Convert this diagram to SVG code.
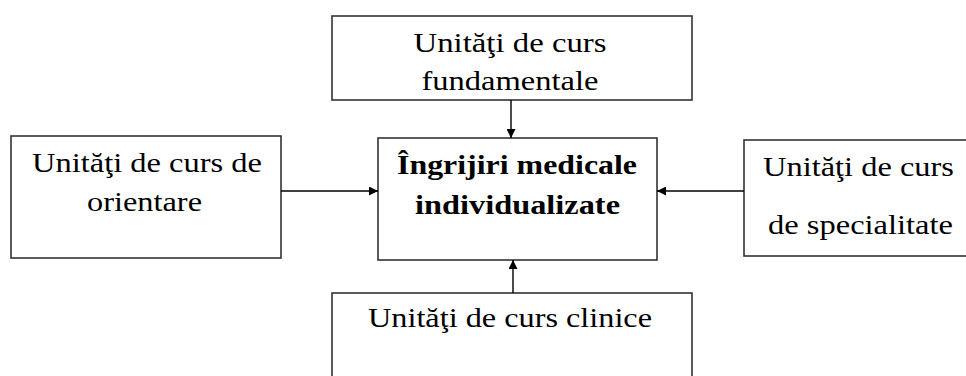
<svg xmlns="http://www.w3.org/2000/svg" width="966" height="376" viewBox="0 0 966 376">
<style>
.box{fill:#fff;stroke:#333;stroke-width:1.6}
.t{font-family:"Liberation Serif","Times New Roman",serif;font-size:28px;fill:#000;text-anchor:middle}
.b{font-weight:bold}
.c{stroke:#000;stroke-width:1.4;fill:none}
</style>
<defs>
<marker id="ah" viewBox="0 0 10 10" refX="10" refY="5" markerWidth="10" markerHeight="9" markerUnits="userSpaceOnUse" orient="auto">
<path d="M0,0 L10,5 L0,10 Z" fill="#000"/>
</marker>
</defs>
<rect width="966" height="376" fill="#fff"/>
<g id="fundamentale">
<rect class="box" x="332" y="16" width="360" height="84"/>
<text class="t" x="510" y="52" textLength="193" lengthAdjust="spacingAndGlyphs">Unităţi de curs</text>
<text class="t" x="510" y="90" textLength="177" lengthAdjust="spacingAndGlyphs">fundamentale</text>
</g>
<g id="orientare">
<rect class="box" x="11" y="136" width="270" height="122"/>
<text class="t" x="147" y="172" textLength="230" lengthAdjust="spacingAndGlyphs">Unităţi de curs de</text>
<text class="t" x="144.5" y="211" textLength="115" lengthAdjust="spacingAndGlyphs">orientare</text>
</g>
<g id="central">
<rect class="box" x="378" y="138" width="279" height="122"/>
<text class="t b" x="517" y="174" textLength="240" lengthAdjust="spacingAndGlyphs">Îngrijiri medicale</text>
<text class="t b" x="517.5" y="214" textLength="205" lengthAdjust="spacingAndGlyphs">individualizate</text>
</g>
<g id="specialitate">
<rect class="box" x="744" y="140" width="230" height="116"/>
<text class="t" x="858.5" y="176" textLength="191" lengthAdjust="spacingAndGlyphs">Unităţi de curs</text>
<text class="t" x="860.5" y="234" textLength="185" lengthAdjust="spacingAndGlyphs">de specialitate</text>
</g>
<g id="clinice">
<rect class="box" x="332" y="293" width="360" height="100"/>
<text class="t" x="510" y="327" textLength="284" lengthAdjust="spacingAndGlyphs">Unităţi de curs clinice</text>
</g>
<g id="connectors">
<line class="c" x1="511" y1="100" x2="511" y2="138" marker-end="url(#ah)"/>
<line class="c" x1="281" y1="191" x2="378" y2="191" marker-end="url(#ah)"/>
<line class="c" x1="744" y1="191" x2="657" y2="191" marker-end="url(#ah)"/>
<line class="c" x1="513" y1="293" x2="513" y2="260" marker-end="url(#ah)"/>
</g>
</svg>
